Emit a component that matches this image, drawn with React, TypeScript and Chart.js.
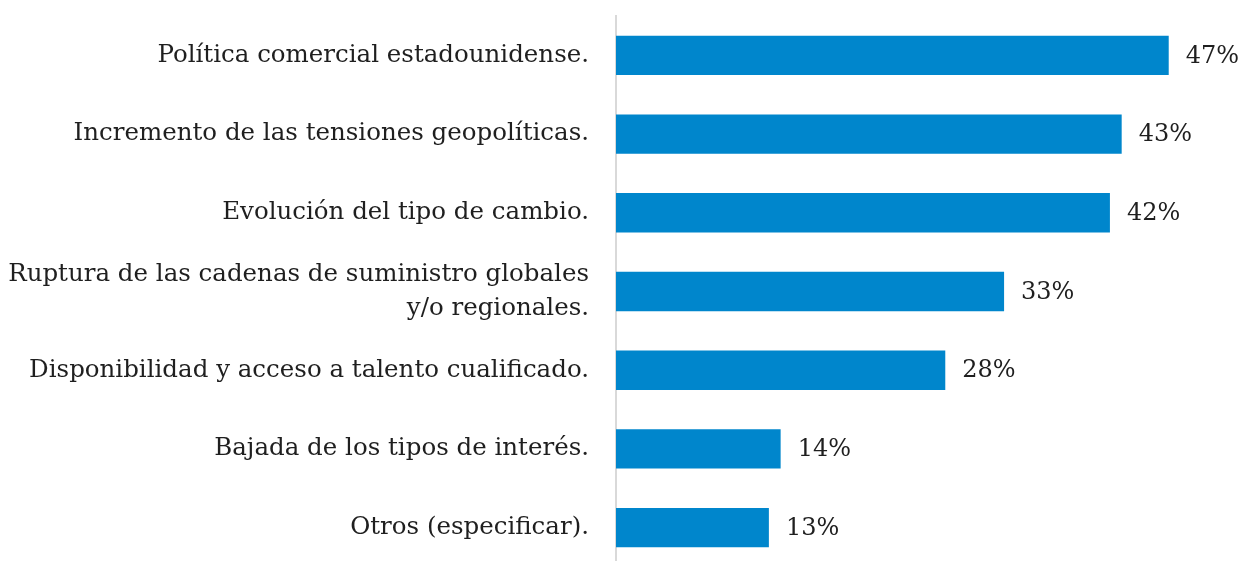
import React, { useEffect, useRef } from "react";
import { Chart, registerables } from "chart.js";

Chart.register(...registerables);

const categories: (string | string[])[] = [
  "Política comercial estadounidense.",
  "Incremento de las tensiones geopolíticas.",
  "Evolución del tipo de cambio.",
  ["Ruptura de las cadenas de suministro globales", "y/o regionales."],
  "Disponibilidad y acceso a talento cualificado.",
  "Bajada de los tipos de interés.",
  "Otros (especificar).",
];
const values: number[] = [47, 43, 42, 33, 28, 14, 13];

const FONT = "'DejaVu Serif', serif";
const TEXT = "#1f1f1f";

const valueLabels = {
  id: "valueLabels",
  afterDatasetsDraw(chart: any) {
    const ctx = chart.ctx;
    const meta = chart.getDatasetMeta(0);
    ctx.save();
    ctx.font = `24px ${FONT}`;
    ctx.fillStyle = TEXT;
    ctx.textAlign = "left";
    ctx.textBaseline = "middle";
    meta.data.forEach((bar: any, i: number) => {
      ctx.fillText(`${values[i]}%`, bar.x + 17, bar.y + 1);
    });
    ctx.restore();
  },
};

export default function App() {
  const ref = useRef<HTMLCanvasElement | null>(null);
  useEffect(() => {
    if (!ref.current) return;
    const chart = new Chart(ref.current, {
      type: "bar",
      data: {
        labels: categories,
        datasets: [
          {
            data: values,
            backgroundColor: "#0086CC",
            borderWidth: 0,
            categoryPercentage: 1,
            barPercentage: 0.5,
          },
        ],
      },
      options: {
        indexAxis: "y",
        animation: false,
        responsive: false,
        maintainAspectRatio: false,
        layout: { padding: { top: 16, bottom: 8, right: 37, left: 0 } },
        plugins: { legend: { display: false }, tooltip: { enabled: false } },
        scales: {
          x: { display: false, min: 0, max: 50 },
          y: {
            grid: { display: false, drawTicks: false },
            border: { display: true, color: "#D9D9D9", width: 2 },
            ticks: {
              color: TEXT,
              padding: 27,
              font: { family: FONT, size: 24.5, lineHeight: 1.4 },
            },
            afterFit(scale: any) {
              scale.width = 616;
              scale.paddingTop = 0;
              scale.paddingBottom = 0;
            },
          },
        },
      },
      plugins: [valueLabels],
    });
    return () => chart.destroy();
  }, []);
  return (
    <div
      style={{
        position: "fixed",
        top: 0,
        left: 0,
        width: 1241,
        height: 561,
        overflow: "hidden",
        background: "#fff",
      }}
    >
      <canvas ref={ref} width={1241} height={575} style={{ display: "block" }} />
    </div>
  );
}
